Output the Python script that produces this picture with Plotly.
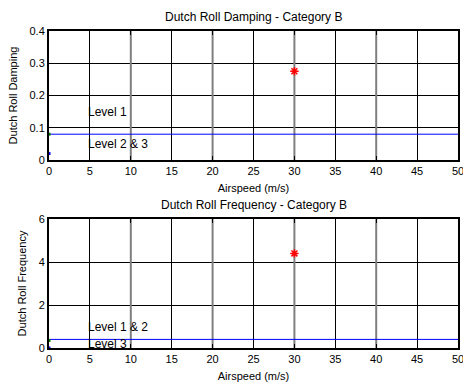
import plotly.graph_objects as go

# data
airspeed = [30]
damping = [0.275]
frequency = [4.4]
x_range = [0, 50]
x_ticks = [0, 5, 10, 15, 20, 25, 30, 35, 40, 45, 50]
x_gray_grid = [10, 20, 30, 40]
damp_range = [0, 0.4]
freq_range = [0, 6]
damping_limit = 0.08
frequency_limit = 0.4
damp_edge_green = [0.08]
damp_edge_blue = [0.02]
freq_edge_green = [0.35]
freq_edge_blue = [0.0]
damp_labels = [("Level 1", 5, 0.15), ("Level 2 & 3", 5, 0.05)]
freq_labels = [("Level 1 & 2", 5, 0.98), ("Level 3", 5, 0.2)]

FONT = "Liberation Sans, Arial, sans-serif"
W, H = 463, 383

fig = go.Figure()


def grid_xy(xs, yr):
    gx, gy = [], []
    for v in xs:
        gx += [v, v, None]
        gy += [yr[0], yr[1], None]
    return gx, gy


# gray gridlines at every 10
for yr, xa, ya in [(damp_range, "x", "y"), (freq_range, "x2", "y2")]:
    gx, gy = grid_xy(x_gray_grid, yr)
    fig.add_trace(go.Scatter(x=gx, y=gy, mode="lines", line=dict(color="#7f7f7f", width=2),
                             xaxis=xa, yaxis=ya, showlegend=False, hoverinfo="skip"))

# limit lines
fig.add_trace(go.Scatter(x=x_range, y=[damping_limit]*2, mode="lines",
                         line=dict(color="blue", width=1), xaxis="x", yaxis="y", showlegend=False))
fig.add_trace(go.Scatter(x=x_range, y=[frequency_limit]*2, mode="lines",
                         line=dict(color="blue", width=1), xaxis="x2", yaxis="y2", showlegend=False))
# edge dots
for ys, col, xa, ya in [(damp_edge_green, "green", "x", "y"), (damp_edge_blue, "blue", "x", "y"),
                        (freq_edge_green, "green", "x2", "y2"), (freq_edge_blue, "blue", "x2", "y2")]:
    fig.add_trace(go.Scatter(x=[0]*len(ys), y=ys, mode="markers", cliponaxis=False,
                             marker=dict(symbol="square", color=col, size=3),
                             xaxis=xa, yaxis=ya, showlegend=False))
# points
fig.add_trace(go.Scatter(x=airspeed, y=damping, mode="markers",
                         marker=dict(symbol="asterisk-open", color="red", size=7,
                                     line=dict(color="red", width=1.5)),
                         xaxis="x", yaxis="y", showlegend=False))
fig.add_trace(go.Scatter(x=airspeed, y=frequency, mode="markers",
                         marker=dict(symbol="asterisk-open", color="red", size=7,
                                     line=dict(color="red", width=1.5)),
                         xaxis="x2", yaxis="y2", showlegend=False))

xd = [49/W, 458/W]
top_dom = [(H-160)/H, (H-31)/H]
bot_dom = [(H-348)/H, (H-219)/H]

tickfont = dict(family=FONT, size=11, color="black")
axcommon = dict(showline=True, linecolor="black", linewidth=2, mirror="ticks",
                ticks="inside", ticklen=4, tickcolor="black",
                showgrid=True, gridcolor="black", gridwidth=1, zeroline=False,
                tickfont=tickfont, ticklabeloverflow="allow", automargin=False)

fig.update_layout(
    width=W, height=H, margin=dict(l=0, r=0, t=0, b=0, autoexpand=False),
    paper_bgcolor="white", plot_bgcolor="white",
    font=dict(family=FONT, size=11, color="black"),
    xaxis=dict(domain=xd, range=x_range, anchor="y", tickvals=x_ticks,
               ticktext=[str(v) for v in x_ticks],
               title=dict(text="Airspeed (m/s)", font=dict(size=11), standoff=8), **axcommon),
    yaxis=dict(domain=top_dom, range=damp_range, anchor="x",
               tickvals=[0, 0.1, 0.2, 0.3, 0.4], ticktext=["0", "0.1", "0.2", "0.3", "0.4"],
               title=dict(text="Dutch Roll Damping", font=dict(size=11), standoff=10), **axcommon),
    xaxis2=dict(domain=xd, range=x_range, anchor="y2", tickvals=x_ticks,
                ticktext=[str(v) for v in x_ticks],
                title=dict(text="Airspeed (m/s)", font=dict(size=11), standoff=8), **axcommon),
    yaxis2=dict(domain=bot_dom, range=freq_range, anchor="x2", tickvals=[0, 2, 4, 6],
                title=dict(text="Dutch Roll Frequency", font=dict(size=11), standoff=10), **axcommon),
)

annotations = []
annotations.append(dict(text="Dutch Roll Damping - Category B", xref="paper", yref="paper",
                        x=(xd[0]+xd[1])/2, y=(H-17)/H, showarrow=False, yanchor="middle",
                        font=dict(size=12)))
annotations.append(dict(text="Dutch Roll Frequency - Category B", xref="paper", yref="paper",
                        x=(xd[0]+xd[1])/2, y=(H-205)/H, showarrow=False, yanchor="middle",
                        font=dict(size=12)))
for t, x, y in damp_labels:
    annotations.append(dict(text=t, x=x, y=y, xref="x", yref="y", showarrow=False,
                            xanchor="left", yanchor="middle", xshift=-4, font=dict(size=12)))
for t, x, y in freq_labels:
    annotations.append(dict(text=t, x=x, y=y, xref="x2", yref="y2", showarrow=False,
                            xanchor="left", yanchor="middle", xshift=-4, font=dict(size=12)))
fig.update_layout(annotations=annotations)

fig.write_html("out.html")
